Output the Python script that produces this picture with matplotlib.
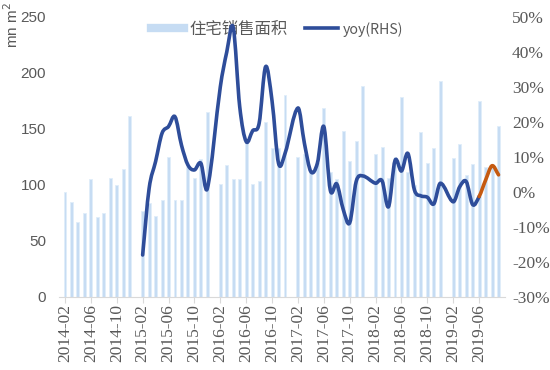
import numpy as np
import matplotlib
matplotlib.use("Agg")
import matplotlib.pyplot as plt
from matplotlib.path import Path
from matplotlib.patches import PathPatch
from matplotlib.lines import Line2D

# residential floor space sold, mn m2 (Feb..Dec each year, Jan is folded into Feb)
area_2014 = [94, 85, 67, 75, 105, 71, 75, 106, 100, 114, 162]
area_2015 = [77, 84, 72, 87, 125, 87, 87, 116, 106, 123, 165]
area_2016 = [101, 118, 105, 105, 138, 101, 104, 156, 133, 133, 180]
area_2017 = [125, 128, 112, 120, 169, 112, 105, 148, 121, 139, 188]
area_2018 = [128, 134, 106, 125, 179, 112, 100, 147, 120, 133, 193]
area_2019 = [124, 137, 109, 119, 175, 116, 117, 153]

# yoy growth, % (starts 2015-02)
yoy_2015 = [-18, 1, 8.7, 16.8, 18.7, 21.5, 13.4, 7.7, 6.3, 8.2, 1]
yoy_2016 = [30, 40, 47, 24.4, 14.4, 17.5, 19.6, 35.8, 26, 8.2, 11]
yoy_2017 = [24, 13.9, 5.8, 8.2, 18.7, 0.5, 2.3, -5, -8.8, 3, 4.6]
yoy_2018 = [2.5, 3.2, -4.2, 9, 6, 11, 0.6, -1.1, -1.5, -3.4, 2.5]
yoy_2019 = [-2.8, 1.5, 3, -3.6, -1.3, 3.4, 7.5, 4.9]
latest_from = "2019-06"   # orange part of the line starts here

area = area_2014 + area_2015 + area_2016 + area_2017 + area_2018 + area_2019
yoy = yoy_2015 + yoy_2016 + yoy_2017 + yoy_2018 + yoy_2019

# month labels, no January
months = [f"{y}-{m:02d}" for y in range(2014, 2020) for m in range(2, 13)][:len(area)]
def midx(s):
    y, m = s.split("-")
    return (int(y) - 2014) * 12 + int(m) - 1

x_area = np.array([midx(s) for s in months])
yoy_months = months[months.index("2015-02"):]
x_yoy = np.array([midx(s) for s in yoy_months])
split = yoy_months.index(latest_from)

tick_pos = list(range(1, 66, 4))
tick_lab = [f"{2014 + i // 12}-{i % 12 + 1:02d}" for i in tick_pos]

BAR = "#C6DCF3"
BLUE = "#2E4D9A"
ORANGE = "#C55A11"
GREY = "#595959"

fig = plt.figure(figsize=(5.5, 3.7), dpi=100)
ax = fig.add_axes([0.1064, 0.1973, 0.8118, 0.7568])
ax.bar(x_area, area, width=0.45, color=BAR, edgecolor="#E0EDFA", linewidth=0.6)
ax.set_xlim(0, 69)
ax.set_ylim(0, 250)
ax.set_yticks(range(0, 251, 50))
ax.tick_params(axis="y", length=0, labelsize=11, labelcolor=GREY, pad=9)
for t in ax.get_yticklabels():
    t.set_family("Liberation Sans")
ax.set_xticks(tick_pos)
ax.set_xticklabels(tick_lab, rotation=90, family="Liberation Serif", fontsize=12.5, color=GREY)
ax.tick_params(axis="x", length=4, color="#D9D9D9", pad=1)
for s in ["top", "left", "right"]:
    ax.spines[s].set_visible(False)
ax.spines["bottom"].set_color("#D9D9D9")

ax2 = ax.twinx()
ax2.set_ylim(-30, 50)
ax2.set_yticks(range(-30, 51, 10))
ax2.set_yticklabels([f"{v}%" for v in range(-30, 51, 10)], family="Liberation Serif", fontsize=12.5, color=GREY)
ax2.tick_params(axis="y", length=0, pad=5)
for s in ax2.spines.values():
    s.set_visible(False)

# smooth line like excel: cubic segments through the monthly points
pts = np.column_stack([x_yoy, yoy]).astype(float)
n = len(pts)
slope = np.zeros(n)
for i in range(n):
    a = pts[max(i - 1, 0)]
    b = pts[min(i + 1, n - 1)]
    slope[i] = (b[1] - a[1]) / (b[0] - a[0])
segs = []
for i in range(n - 1):
    p1, p2 = pts[i], pts[i + 1]
    dx = (p2[0] - p1[0]) / 3
    c1 = (p1[0] + dx, p1[1] + slope[i] * dx)
    c2 = (p2[0] - dx, p2[1] - slope[i + 1] * dx)
    segs.append((p1, c1, c2, p2))

def make_path(sl):
    verts = [sl[0][0]]
    codes = [Path.MOVETO]
    for _, c1, c2, e in sl:
        verts += [c1, c2, e]
        codes += [Path.CURVE4] * 3
    return Path(verts, codes)

for sl, col in [(segs[:split], BLUE), (segs[split:], ORANGE)]:
    ax2.add_patch(PathPatch(make_path(sl), fill=False, edgecolor=col, lw=2.6,
                            capstyle="round", joinstyle="round"))

handles = [Line2D([], [], color=BAR, lw=6), Line2D([], [], color=BLUE, lw=2.6)]
leg = ax.legend(handles, ["住宅销售面积", "yoy(RHS)"], loc="upper center", bbox_to_anchor=(0.49, 1.04),
                ncol=2, frameon=False, handlelength=2.0, columnspacing=1.1, handletextpad=0.3,
                prop={"family": ["Noto Sans CJK SC", "DejaVu Sans"], "size": 11.8}, labelcolor=GREY)
leg.get_texts()[1].set_fontsize(10.2)

fig.text(0.022, 0.995, "mn m$^2$", rotation=90, va="top", ha="center", fontsize=11,
         color=GREY, family="Liberation Sans")

fig.savefig("out.png", dpi=100)
